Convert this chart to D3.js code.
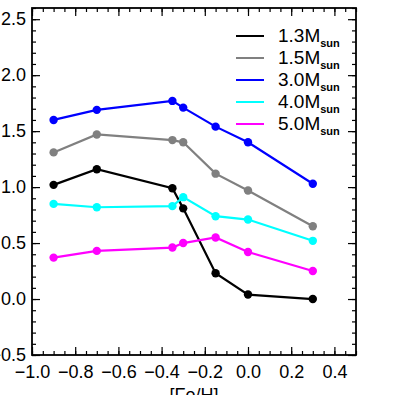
<!DOCTYPE html>
<html>
<head>
<meta charset="utf-8">
<script src="https://cdn.jsdelivr.net/npm/d3@7"></script>
<style>
    body { margin: 0; background: #fff; }
    svg { display: block; font-family: "Liberation Sans", Arial, sans-serif; }
</style>
</head>
<body>
<div id="chart"></div>
<script>
// metallicity grid
const feh = [-0.9, -0.7, -0.35, -0.3, -0.15, 0.0, 0.3];

const m13 = [1.02, 1.16, 0.99, 0.81, 0.23, 0.04, 0.00];
const m15 = [1.31, 1.47, 1.42, 1.40, 1.12, 0.97, 0.65];
const m30 = [1.60, 1.69, 1.77, 1.71, 1.54, 1.40, 1.03];
const m40 = [0.85, 0.82, 0.83, 0.91, 0.74, 0.71, 0.52];
const m50 = [0.37, 0.43, 0.46, 0.50, 0.55, 0.42, 0.25];

const massLabels = ["1.3", "1.5", "3.0", "4.0", "5.0"];
const seriesColors = ["#000000", "#808080", "#0000ff", "#00ffff", "#ff00ff"];

const xTicks = [-1.0, -0.8, -0.6, -0.4, -0.2, 0.0, 0.2, 0.4];
const yTicks = [-0.5, 0.0, 0.5, 1.0, 1.5, 2.0, 2.5];

const series = [m13, m15, m30, m40, m50].map(function (vals, i) {
    return {
        label: massLabels[i],
        color: seriesColors[i],
        points: vals.map(function (v, j) { return {x: feh[j], y: v}; })
    };
});

function renderChart() {
    const W = 395, H = 395;
    const margin = {top: 8, right: 39, bottom: 40, left: 32},
        width = W - margin.left - margin.right,
        height = H - margin.top - margin.bottom;

    const svg = d3.select("#chart").append("svg")
        .attr("width", W)
        .attr("height", H);
    const g = svg.append("g")
        .attr("transform", "translate(" + margin.left + "," + margin.top + ")");

    const x = d3.scaleLinear().domain([-1.0, 0.5]).range([0, width]);
    const y = d3.scaleLinear().domain([-0.5, 2.6]).range([height, 0]);

    const fmt = function (d) { return d3.format(".1f")(d).replace("-", "\u2212"); };
    const xMinor = d3.range(-1.0, 0.5001, 0.05);
    const yMinor = d3.range(-0.5, 2.6001, 0.1);

    // minor ticks on all four sides
    function drawTicks(axisFn, scale, vals, len, tr) {
        g.append("g")
            .attr("transform", tr)
            .call(axisFn(scale).tickValues(vals).tickSize(-len).tickFormat(""))
            .call(function (s) {
                s.select(".domain").remove();
                s.selectAll("line").attr("stroke", "#000").attr("stroke-width", 1.2);
            });
    }
    drawTicks(d3.axisBottom, x, xMinor, 4, "translate(0," + height + ")");
    drawTicks(d3.axisTop, x, xMinor, 4, "translate(0,0)");
    drawTicks(d3.axisLeft, y, yMinor, 4, "translate(0,0)");
    drawTicks(d3.axisRight, y, yMinor, 4, "translate(" + width + ",0)");
    drawTicks(d3.axisBottom, x, xTicks, 8, "translate(0," + height + ")");
    drawTicks(d3.axisTop, x, xTicks, 8, "translate(0,0)");
    drawTicks(d3.axisLeft, y, yTicks, 8, "translate(0,0)");
    drawTicks(d3.axisRight, y, yTicks, 8, "translate(" + width + ",0)");

    // tick labels
    g.append("g")
        .attr("transform", "translate(0," + height + ")")
        .call(d3.axisBottom(x).tickValues(xTicks).tickSize(0).tickPadding(10).tickFormat(fmt))
        .call(function (s) {
            s.select(".domain").remove();
            s.selectAll("text").attr("font-size", 18).attr("fill", "#000")
                .attr("font-family", "Liberation Sans, Arial, sans-serif");
        });
    g.append("g")
        .call(d3.axisLeft(y).tickValues(yTicks).tickSize(0).tickPadding(6).tickFormat(fmt))
        .call(function (s) {
            s.select(".domain").remove();
            s.selectAll("text").attr("font-size", 18).attr("fill", "#000")
                .attr("font-family", "Liberation Sans, Arial, sans-serif");
        });

    // frame
    g.append("rect")
        .attr("width", width)
        .attr("height", height)
        .attr("fill", "none")
        .attr("stroke", "#000")
        .attr("stroke-width", 1.8);

    // x title (cut off by the window, as in the original)
    svg.append("text")
        .attr("x", margin.left + width / 2)
        .attr("y", 401)
        .attr("text-anchor", "middle")
        .attr("font-size", 18)
        .text("[Fe/H]");

    const line = d3.line()
        .x(function (d) { return x(d.x); })
        .y(function (d) { return y(d.y); });

    series.forEach(function (s) {
        g.append("path")
            .datum(s.points)
            .attr("d", line)
            .attr("fill", "none")
            .attr("stroke", s.color)
            .attr("stroke-width", 2.2);
        g.selectAll(null)
            .data(s.points)
            .enter()
            .append("circle")
            .attr("cx", function (d) { return x(d.x); })
            .attr("cy", function (d) { return y(d.y); })
            .attr("r", 4.2)
            .attr("fill", s.color);
    });

    // legend
    const leg = svg.append("g");
    series.forEach(function (s, i) {
        const ly = 36 + i * 22;
        leg.append("line")
            .attr("x1", 236).attr("x2", 264)
            .attr("y1", ly).attr("y2", ly)
            .attr("stroke", s.color)
            .attr("stroke-width", 2);
        const t = leg.append("text")
            .attr("x", 278)
            .attr("y", ly + 6)
            .attr("font-size", 19)
            .attr("fill", "#000");
        t.append("tspan").text(s.label + "M");
        t.append("tspan")
            .attr("font-size", 11)
            .attr("font-weight", "bold")
            .attr("dy", 5)
            .text("sun");
    });
}

renderChart();
</script>
</body>
</html>
